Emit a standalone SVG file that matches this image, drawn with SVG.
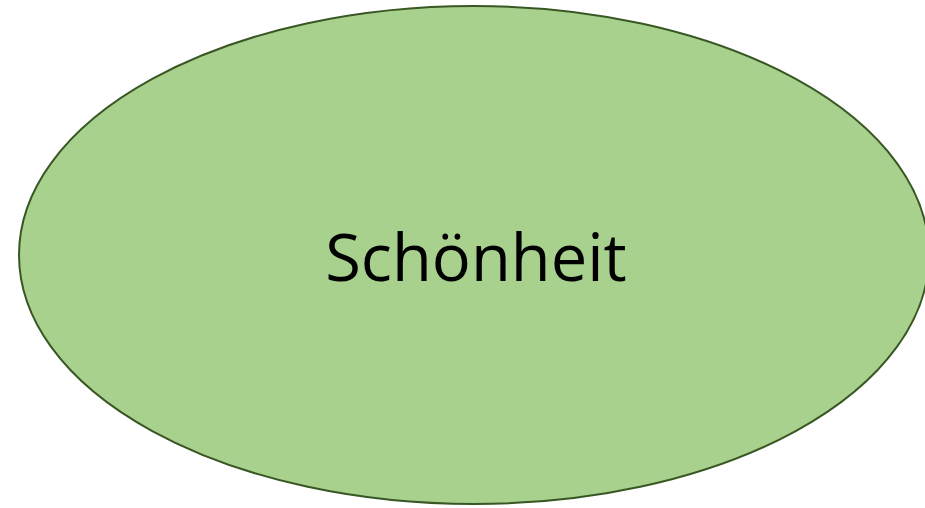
<svg xmlns="http://www.w3.org/2000/svg" width="925" height="508" viewBox="0 0 925 508">
<style>
.node{fill:#A9D18E;stroke:#385723;stroke-width:2}
.lbl{font-family:"Open Sans","Noto Sans","DejaVu Sans",sans-serif;font-size:65px;fill:#000;text-anchor:middle}
</style>
<rect width="925" height="508" fill="#fff"/>
<g id="connectors"/>
<g id="node-schoenheit">
<ellipse class="node" cx="474" cy="255" rx="455" ry="249"/>
<text class="lbl" x="476" y="281">Schönheit</text>
</g>
</svg>
